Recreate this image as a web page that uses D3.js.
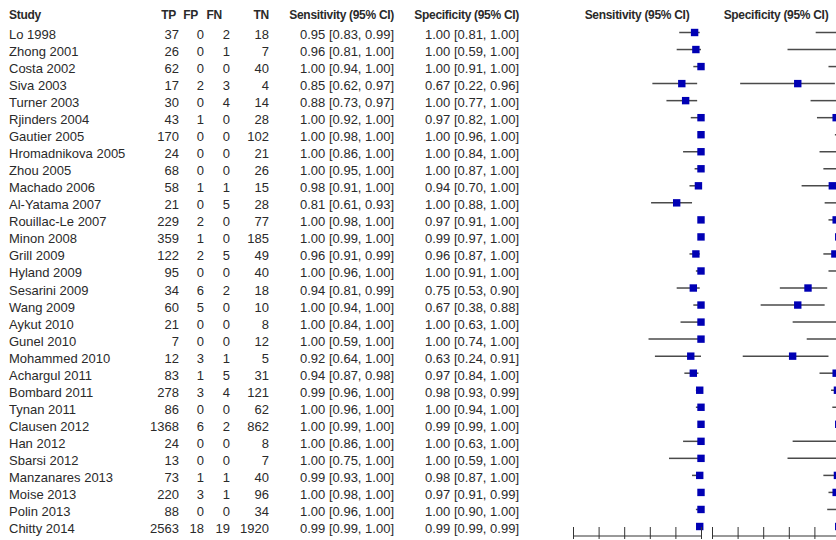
<!DOCTYPE html>
<html>
<head>
<meta charset="utf-8">
<script src="https://cdn.jsdelivr.net/npm/d3@7"></script>
<style>
  body { margin: 0; background: #fff; }
  text { font-family: "Liberation Sans", Arial, sans-serif; fill: #2a2a2a; }
  .hdr { font-weight: bold; font-size: 12px; letter-spacing: -0.3px; }
  .cell { font-size: 13px; }
</style>
</head>
<body>
<div id="chart"></div>
<script>
var studies = ["Lo 1998","Zhong 2001","Costa 2002","Siva 2003","Turner 2003","Rjinders 2004","Gautier 2005",
  "Hromadnikova 2005","Zhou 2005","Machado 2006","Al-Yatama 2007","Rouillac-Le 2007","Minon 2008","Grill 2009",
  "Hyland 2009","Sesarini 2009","Wang 2009","Aykut 2010","Gunel 2010","Mohammed 2010","Achargul 2011",
  "Bombard 2011","Tynan 2011","Clausen 2012","Han 2012","Sbarsi 2012","Manzanares 2013","Moise 2013",
  "Polin 2013","Chitty 2014"];
var tp = [37,26,62,17,30,43,170,24,68,58,21,229,359,122,95,34,60,21,7,12,83,278,86,1368,24,13,73,220,88,2563];
var fp = [0,0,0,2,0,1,0,0,0,1,0,2,1,2,0,6,5,0,0,3,1,3,0,6,0,0,1,3,0,18];
var fn = [2,1,0,3,4,0,0,0,0,1,5,0,0,5,0,2,0,0,0,1,5,4,0,2,0,0,1,1,0,19];
var tn = [18,7,40,4,14,28,102,21,26,15,28,77,185,49,40,18,10,8,12,5,31,121,62,862,8,7,40,96,34,1920];

var sens   = [0.95,0.96,1.00,0.85,0.88,1.00,1.00,1.00,1.00,0.98,0.81,1.00,1.00,0.96,1.00,0.94,1.00,1.00,1.00,0.92,0.94,0.99,1.00,1.00,1.00,1.00,0.99,1.00,1.00,0.99];
var sensLo = [0.83,0.81,0.94,0.62,0.73,0.92,0.98,0.86,0.95,0.91,0.61,0.98,0.99,0.91,0.96,0.81,0.94,0.84,0.59,0.64,0.87,0.96,0.96,0.99,0.86,0.75,0.93,0.98,0.96,0.99];
var sensHi = [0.99,1.00,1.00,0.97,0.97,1.00,1.00,1.00,1.00,1.00,0.93,1.00,1.00,0.99,1.00,0.99,1.00,1.00,1.00,1.00,0.98,1.00,1.00,1.00,1.00,1.00,1.00,1.00,1.00,1.00];
var spec   = [1.00,1.00,1.00,0.67,1.00,0.97,1.00,1.00,1.00,0.94,1.00,0.97,0.99,0.96,1.00,0.75,0.67,1.00,1.00,0.63,0.97,0.98,1.00,0.99,1.00,1.00,0.98,0.97,1.00,0.99];
var specLo = [0.81,0.59,0.91,0.22,0.77,0.82,0.96,0.84,0.87,0.70,0.88,0.91,0.97,0.87,0.91,0.53,0.38,0.63,0.74,0.24,0.84,0.93,0.94,0.99,0.63,0.59,0.87,0.91,0.90,0.99];
var specHi = [1.00,1.00,1.00,0.96,1.00,1.00,1.00,1.00,1.00,1.00,1.00,1.00,1.00,1.00,1.00,0.90,0.88,1.00,1.00,0.91,1.00,0.99,1.00,1.00,1.00,1.00,1.00,0.99,1.00,0.99];

var axisTicks = [0, 0.2, 0.4, 0.6, 0.8, 1];

var width = 836, height = 540;
var rows = d3.range(studies.length);
var f2 = d3.format(".2f");

var svg = d3.select("#chart").append("svg")
    .attr("width", width)
    .attr("height", height);

// text baseline of each study row
var yScale = d3.scaleLinear()
    .domain([0, studies.length - 1])
    .range([39, 533]);

// the two forest panels (spec runs off the right edge like the original)
var xSens = d3.scaleLinear().domain([0, 1]).range([573, 701]);
var xSpec = d3.scaleLinear().domain([0, 1]).range([712, 840]);

// ---- header row
var headers = [
  {label: "Study", x: 9, anchor: "start"},
  {label: "TP", x: 176, anchor: "end"},
  {label: "FP", x: 198, anchor: "end"},
  {label: "FN", x: 222, anchor: "end"},
  {label: "TN", x: 269, anchor: "end"},
  {label: "Sensitivity (95% CI)", x: 394, anchor: "end"},
  {label: "Specificity (95% CI)", x: 519, anchor: "end"},
  {label: "Sensitivity (95% CI)", x: 637, anchor: "middle"},
  {label: "Specificity (95% CI)", x: 776, anchor: "middle"}
];
svg.selectAll(".hdr")
    .data(headers)
    .enter()
    .append("text")
    .attr("class", "hdr")
    .attr("x", d => d.x)
    .attr("y", 19)
    .attr("text-anchor", d => d.anchor)
    .text(d => d.label);

// ---- table columns
var columns = [
  {x: 9,   anchor: "start", val: i => studies[i]},
  {x: 179, anchor: "end", val: i => tp[i]},
  {x: 204, anchor: "end", val: i => fp[i]},
  {x: 230, anchor: "end", val: i => fn[i]},
  {x: 269, anchor: "end", val: i => tn[i]},
  {x: 394, anchor: "end", val: i => f2(sens[i]) + " [" + f2(sensLo[i]) + ", " + f2(sensHi[i]) + "]"},
  {x: 519, anchor: "end", val: i => f2(spec[i]) + " [" + f2(specLo[i]) + ", " + f2(specHi[i]) + "]"}
];
columns.forEach(function(col) {
  svg.append("g").selectAll("text")
      .data(rows)
      .enter()
      .append("text")
      .attr("class", "cell")
      .attr("x", col.x)
      .attr("y", i => yScale(i))
      .attr("text-anchor", col.anchor)
      .text(col.val);
});

// ---- forest panels
function drawPanel(xScale, est, lo, hi) {
  var g = svg.append("g");
  g.selectAll(".ci")
      .data(rows)
      .enter()
      .append("line")
      .attr("class", "ci")
      .attr("x1", i => xScale(lo[i]))
      .attr("x2", i => xScale(hi[i]))
      .attr("y1", i => yScale(i) - 6.5)
      .attr("y2", i => yScale(i) - 6.5)
      .attr("stroke", "#4a4a4a")
      .attr("stroke-width", 1.5);
  g.selectAll(".pt")
      .data(rows)
      .enter()
      .append("rect")
      .attr("class", "pt")
      .attr("x", i => xScale(est[i]) - 3.7)
      .attr("y", i => yScale(i) - 6.5 - 3.7)
      .attr("width", 7.4)
      .attr("height", 7.4)
      .attr("fill", "#0000b4");

  // tick labels sit below the bottom edge in the original, so none are drawn
  var axis = d3.axisBottom(xScale)
      .tickValues(axisTicks)
      .tickSize(12)
      .tickSizeOuter(0)
      .tickFormat("");
  var ax = svg.append("g")
      .attr("transform", "translate(0,527)")
      .call(axis);
  ax.select(".domain").remove();
  ax.selectAll(".tick line").attr("stroke", "#333");
  ax.append("line")
      .attr("x1", xScale(0))
      .attr("x2", xScale(1))
      .attr("y1", 9)
      .attr("y2", 9)
      .attr("stroke", "#333");
}
drawPanel(xSens, sens, sensLo, sensHi);
drawPanel(xSpec, spec, specLo, specHi);
</script>
</body>
</html>
